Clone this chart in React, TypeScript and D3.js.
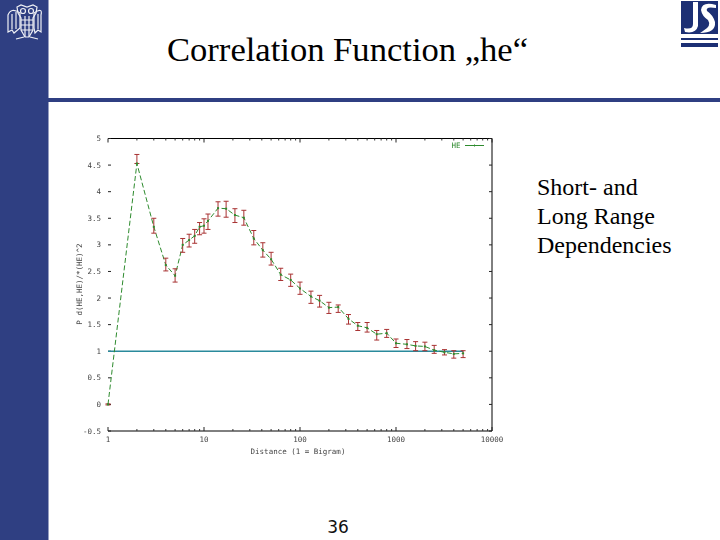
import React from "react";
import * as d3 from "d3";

const distances = [1,2,3,4,5,6,7,8,9,10,11,14,17,21,26,33,41,50,63,80,100,130,160,200,250,320,400,500,630,800,1000,1300,1600,2000,2500,3200,4000,5000];
const means = [0,4.53,3.34,2.62,2.42,3.0,3.09,3.17,3.34,3.36,3.45,3.69,3.68,3.56,3.51,3.12,2.9,2.73,2.44,2.34,2.18,2.03,1.95,1.82,1.83,1.61,1.48,1.44,1.32,1.34,1.15,1.13,1.10,1.09,1.02,0.98,0.95,0.96];
const highs = [0.01,4.70,3.50,2.75,2.55,3.12,3.2,3.29,3.42,3.49,3.58,3.81,3.82,3.68,3.65,3.27,3.04,2.86,2.56,2.45,2.30,2.13,2.05,1.92,1.87,1.69,1.54,1.54,1.39,1.41,1.23,1.22,1.18,1.17,1.11,1.03,1.01,1.01];
const lows = [-0.01,4.53,3.22,2.51,2.30,2.86,2.96,3.03,3.19,3.22,3.29,3.54,3.52,3.42,3.37,3.0,2.77,2.62,2.33,2.22,2.07,1.90,1.83,1.71,1.73,1.51,1.39,1.36,1.21,1.26,1.07,1.05,1.01,1.01,0.96,0.93,0.87,0.88];
const yTicks = [5,4.5,4,3.5,3,2.5,2,1.5,1,0.5,0,-0.5];
const xMajor = [1,10,100,1000,10000];
const xMinor = [2,3,4,5,6,7,8,9,20,30,40,50,60,70,80,90,200,300,400,500,600,700,800,900,2000,3000,4000,5000,6000,7000,8000,9000];
const baseline = [1,5000];
const sideText = ["Short- and","Long Range","Dependencies"];

const x = d3.scaleLog().domain([1,10000]).range([108,492]);
const y = d3.scaleLinear().domain([-0.5,5]).range([431,138.5]);
const idx = distances.map((_,i)=>i);
const line = d3.line<number>().x(i=>x(distances[i])).y(i=>y(means[i]));
const navy = "#2f3f82";
const tickFont = "'DejaVu Sans Mono', monospace";
const blur = "url(#soft)";

export default function App(){
  return (
    <svg width={720} height={540} style={{position:"absolute",left:0,top:0,background:"#fff"}}>
      <defs><filter id="soft"><feGaussianBlur stdDeviation="0.4"/></filter></defs>
      <rect x={0} y={0} width={48.5} height={540} fill={navy}/>
      <rect x={48} y={98} width={672} height={4} fill={navy}/>
      {/* left emblem */}
      <g fill="none" stroke="#fff" strokeWidth={1.2} opacity={0.92}>
        <path d="M17 7 L21 5 L27 7 L33 5 L37 7 L36 13 L33 18 L33 30 L29 37 L25 37 L21 30 L21 18 L18 13 Z"/>
        <circle cx={23} cy={11} r={2.5}/><circle cx={31} cy={11} r={2.5}/>
        <path d="M21 20 H33 M21 25 H33 M21 30 H33 M25 16 V37 M29 16 V37"/>
        <path d="M20 13 Q11 7 8 15 L8 32 L12 30 L14 33 L20 28 Z"/>
        <path d="M34 13 Q43 7 41 15 L41 32 L38 30 L35 33 L34 28 Z"/>
        <path d="M12 14 V29 M16 12 V29 M38 14 V29"/>
        <path d="M16 39 L24 37 M38 39 L30 37"/>
      </g>
      {/* right logo */}
      <rect x={681} y={1} width={37} height={33} fill="#1c2f74"/>
      <rect x={681} y={38} width={37} height={2} fill="#1c2f74"/>
      <rect x={681} y={43} width={37} height={4} fill="#1c2f74"/>
      <path d="M693 2 H698 V26 Q696 34 685 32 L684 28 Q693 30 693 24 Z" fill="#fff"/>
      <path d="M716 5 Q702 1 701 10 Q702 16 708 20 Q712 26 703 31 L700 33 Q716 33 715 22 Q713 15 707 11 Q705 6 716 8 Z" fill="#fff"/>

      <text x={167} y={61} fontFamily="'Liberation Serif', serif" fontSize={34.6} fill="#000">Correlation Function „he“</text>
      {sideText.map((t,i)=>(
        <text key={t} x={537} y={195+i*29} fontFamily="'Liberation Serif', serif" fontSize={24} fill="#000">{t}</text>
      ))}
      <text x={338} y={533} textAnchor="middle" fontFamily="'DejaVu Sans', sans-serif" fontSize={17} fill="#111">36</text>

      {/* frame */}
      <path d={`M${x.range()[0]} ${y(5)} H${x.range()[1]} V${y(-0.5)} H${x.range()[0]}`} fill="none" stroke="#000" strokeWidth={1}/>
      {yTicks.map(v=>(
        <g key={v}>
          <line x1={108} x2={111} y1={y(v)} y2={y(v)} stroke="#222"/>
          <line x1={489} x2={492} y1={y(v)} y2={y(v)} stroke="#222"/>
          <text x={101} y={y(v)+2.5} textAnchor="end" fontFamily={tickFont} fontSize={7.5} fill="#444" filter={blur}>{v}</text>
        </g>
      ))}
      {xMajor.map(v=>(
        <g key={v}>
          <line x1={x(v)} x2={x(v)} y1={431} y2={427} stroke="#222"/>
          <line x1={x(v)} x2={x(v)} y1={138.5} y2={142.5} stroke="#222"/>
          <text x={x(v)} y={442} textAnchor="middle" fontFamily={tickFont} fontSize={7.5} fill="#444" filter={blur}>{v}</text>
        </g>
      ))}
      {xMinor.map(v=>(
        <g key={v}>
          <line x1={x(v)} x2={x(v)} y1={431} y2={429} stroke="#333"/>
          <line x1={x(v)} x2={x(v)} y1={138.5} y2={140.5} stroke="#333"/>
        </g>
      ))}
      <text x={298} y={454} textAnchor="middle" fontFamily={tickFont} fontSize={7.5} fill="#444" filter={blur}>Distance (1 = Bigram)</text>
      <text transform="translate(82,284) rotate(-90)" textAnchor="middle" fontFamily={tickFont} fontSize={7.5} fill="#444" filter={blur}>P d(HE,HE)/*(HE)^2</text>

      {/* legend */}
      <text x={456} y={148} textAnchor="middle" fontFamily={tickFont} fontSize={7.5} fill="#2e8b2e" filter={blur}>HE</text>
      <line x1={465} x2={484} y1={145.5} y2={145.5} stroke="#2e8b2e"/>
      <line x1={474.5} x2={474.5} y1={144.5} y2={146.5} stroke="#2e8b2e"/>

      <line x1={x(baseline[0])} x2={x(baseline[1])} y1={y(1)} y2={y(1)} stroke="#2a8a9c" strokeWidth={1.4}/>
      <path d={line(idx)!} fill="none" stroke="#2e8b2e" strokeWidth={1} strokeDasharray="5 2.5"/>
      {idx.map(i=>(
        <g key={i} stroke="#a83232" strokeWidth={1}>
          <line x1={x(distances[i])} x2={x(distances[i])} y1={y(highs[i])} y2={y(lows[i])}/>
          <line x1={x(distances[i])-2.5} x2={x(distances[i])+2.5} y1={y(highs[i])} y2={y(highs[i])}/>
          <line x1={x(distances[i])-2.5} x2={x(distances[i])+2.5} y1={y(lows[i])} y2={y(lows[i])}/>
        </g>
      ))}
      {idx.map(i=>(
        <rect key={i} x={x(distances[i])-1} y={y(means[i])-1} width={2} height={2} fill="#2e8b2e"/>
      ))}
    </svg>
  );
}
